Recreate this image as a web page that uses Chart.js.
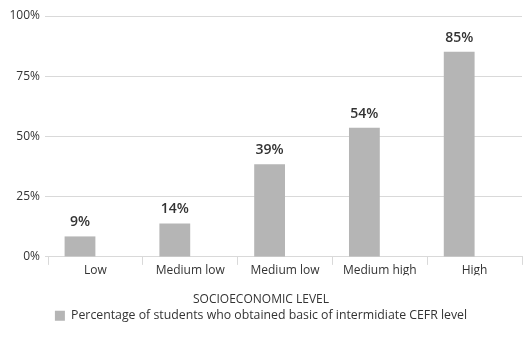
<!DOCTYPE html>
<html>
<head>
<meta charset="utf-8">
<script src="https://cdn.jsdelivr.net/npm/chart.js@4.4.1/dist/chart.umd.min.js"></script>
<style>
  html, body { margin: 0; padding: 0; background: #fff; }
  #wrap { width: 528px; height: 337px; }
</style>
</head>
<body>
<div id="wrap"><canvas id="canvasNivel"></canvas></div>
<script>
// datos
var niveles = ['Low', 'Medium low', 'Medium low', 'Medium high', 'High'];
var porcentaje = [8.5, 13.9, 38.5, 53.6, 85.2];
var vacio = [0, 0, 0, 0, 0];
var ticksY = [0, 25, 50, 75, 100];

var tituloX = 'SOCIOECONOMIC LEVEL';
var nombreSerie = 'Percentage of students who obtained basic of intermidiate CEFR level';

var fuente = "'Open Sans', 'Noto Sans', sans-serif";

// etiquetas arriba de cada barra
var etiquetasBarras = {
  id: 'etiquetasBarras',
  afterDatasetsDraw: function (chart) {
    var ctx = chart.ctx;
    var meta = chart.getDatasetMeta(0);
    ctx.save();
    ctx.font = '600 14px ' + fuente;
    ctx.fillStyle = '#333333';
    ctx.textAlign = 'center';
    ctx.textBaseline = 'bottom';
    for (var i = 0; i < meta.data.length; i++) {
      var bar = meta.data[i];
      ctx.fillText(Math.round(porcentaje[i]) + '%', bar.x, bar.y - 7);
    }
    ctx.restore();
  }
};

var ctx = document.getElementById('canvasNivel').getContext('2d');

window.myBar = new Chart(ctx, {
  type: 'bar',
  data: {
    labels: niveles,
    datasets: [
      {
        label: nombreSerie,
        data: porcentaje,
        backgroundColor: '#b5b5b5',
        borderWidth: 0
      },
      {
        label: 'vacio',
        data: vacio,
        backgroundColor: '#404040',
        borderWidth: 0
      }
    ]
  },
  options: {
    responsive: true,
    maintainAspectRatio: false,
    animation: false,
    datasets: {
      bar: {
        categoryPercentage: 0.65,
        barPercentage: 1
      }
    },
    layout: {
      padding: { top: 16, right: 6, left: 0, bottom: 5 }
    },
    scales: {
      x: {
        grid: {
          display: true,
          drawOnChartArea: false,
          drawTicks: true,
          tickLength: 8,
          offset: true,
          color: '#d9d9d9'
        },
        border: { color: '#d9d9d9' },
        ticks: {
          color: '#333333',
          padding: -2,
          font: { family: fuente, size: 12 }
        }
      },
      y: {
        min: 0,
        max: 100,
        afterBuildTicks: function (axis) {
          axis.ticks = ticksY.map(function (v) { return { value: v }; });
        },
        afterFit: function (axis) {
          axis.width = 48;
        },
        grid: {
          color: '#d9d9d9',
          tickLength: 3
        },
        border: { display: false },
        ticks: {
          color: '#333333',
          padding: 5,
          font: { family: fuente, size: 12 },
          callback: function (v) { return v + '%'; }
        }
      }
    },
    plugins: {
      tooltip: { enabled: false },
      title: {
        display: true,
        position: 'bottom',
        weight: 500,
        text: tituloX,
        color: '#333333',
        font: { family: fuente, size: 12, weight: 'normal' },
        padding: { top: 17, bottom: 0 }
      },
      legend: {
        position: 'bottom',
        labels: {
          color: '#333333',
          boxWidth: 10,
          boxHeight: 10,
          padding: 3,
          font: { family: fuente, size: 12.3 },
          filter: function (item) { return item.datasetIndex === 0; }
        }
      }
    }
  },
  plugins: [etiquetasBarras]
});
</script>
</body>
</html>
